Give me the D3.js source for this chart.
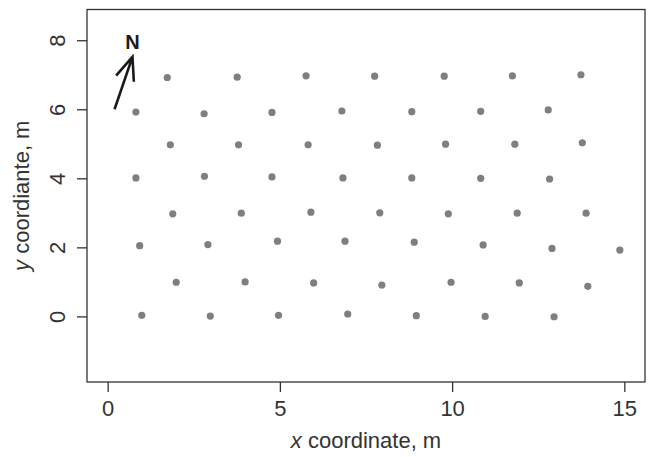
<!DOCTYPE html>
<html>
<head>
<meta charset="utf-8">
<script src="https://cdn.jsdelivr.net/npm/d3@7"></script>
<style>
  body { margin: 0; background: #ffffff; }
  text { font-family: "Liberation Sans", Arial, sans-serif; }
</style>
</head>
<body>
<div id="chart-container"></div>
<script>
// tree positions, m
const xCoord = [
  1.73, 3.76, 5.76, 7.75, 9.77, 11.75, 13.74,
  0.82, 2.80, 4.77, 6.80, 8.83, 10.83, 12.79,
  1.82, 3.80, 5.82, 7.83, 9.81, 11.82, 13.78,
  0.82, 2.81, 4.77, 6.83, 8.83, 10.83, 12.83,
  1.89, 3.88, 5.90, 7.90, 9.89, 11.89, 13.89,
  0.93, 2.91, 4.93, 6.89, 8.90, 10.90, 12.90, 14.87,
  1.99, 3.99, 5.98, 7.96, 9.97, 11.95, 13.94,
  0.99, 2.98, 4.96, 6.97, 8.96, 10.96, 12.96,
];
const yCoord = [
  6.92, 6.93, 6.97, 6.96, 6.96, 6.97, 7.00,
  5.92, 5.87, 5.91, 5.95, 5.93, 5.94, 5.98,
  4.97, 4.97, 4.97, 4.96, 4.99, 4.99, 5.03,
  4.01, 4.06, 4.04, 4.01, 4.01, 4.00, 3.98,
  2.97, 2.99, 3.02, 3.00, 2.97, 2.99, 2.99,
  2.05, 2.08, 2.18, 2.18, 2.15, 2.07, 1.97, 1.92,
  0.99, 1.00, 0.97, 0.91, 0.99, 0.97, 0.87,
  0.03, 0.01, 0.03, 0.07, 0.02, 0.00, -0.01,
];
const xTicks = [0, 5, 10, 15];
const yTicks = [0, 2, 4, 6, 8];
// north arrow
const arrowFrom = [0.2, 6.0];
const arrowTo = [0.72, 7.52];
const northLabel = [0.72, 7.94];

const width = 649;
const height = 457;
const margin = { top: 9.5, right: 4, bottom: 75, left: 87 };

const svg = d3
  .select("#chart-container")
  .append("svg")
  .attr("width", width)
  .attr("height", height);

const x = d3
  .scaleLinear()
  .domain([-0.6, 15.6])
  .range([margin.left, width - margin.right]);

const y = d3
  .scaleLinear()
  .domain([-1.9, 8.89])
  .range([height - margin.bottom, margin.top]);

const axisColor = "#333333";
const bottomY = height - margin.bottom;

// plot box
svg
  .append("rect")
  .attr("x", margin.left)
  .attr("y", margin.top)
  .attr("width", width - margin.right - margin.left)
  .attr("height", bottomY - margin.top)
  .style("fill", "none")
  .style("stroke", axisColor)
  .style("stroke-width", 1.3);

// x axis
const xAxis = svg
  .append("g")
  .attr("transform", `translate(0, ${bottomY})`)
  .call(d3.axisBottom(x).tickValues(xTicks).tickSize(10).tickPadding(8));
xAxis.select(".domain").remove();
xAxis.selectAll("line").style("stroke", axisColor).style("stroke-width", 1.3);
xAxis
  .selectAll("text")
  .style("font-size", "22px")
  .style("fill", "#333333")
  .style("font-family", "Liberation Sans, Arial, sans-serif");

// y axis, labels turned like base R
const yAxis = svg
  .append("g")
  .attr("transform", `translate(${margin.left}, 0)`)
  .call(d3.axisLeft(y).tickValues(yTicks).tickSize(10));
yAxis.select(".domain").remove();
yAxis.selectAll("line").style("stroke", axisColor).style("stroke-width", 1.3);
yAxis
  .selectAll("text")
  .attr("x", null)
  .attr("dy", null)
  .attr("text-anchor", "middle")
  .attr("transform", "translate(-22, 0) rotate(-90)")
  .style("font-size", "22px")
  .style("fill", "#333333")
  .style("font-family", "Liberation Sans, Arial, sans-serif");

// axis titles
const xTitle = svg
  .append("text")
  .attr("x", (margin.left + width - margin.right) / 2)
  .attr("y", 448)
  .attr("text-anchor", "middle")
  .style("font-size", "22px")
  .style("fill", "#333333");
xTitle.append("tspan").style("font-style", "italic").text("x");
xTitle.append("tspan").text(" coordinate, m");

const yTitle = svg
  .append("text")
  .attr(
    "transform",
    `translate(29, ${(margin.top + bottomY) / 2}) rotate(-90)`
  )
  .attr("text-anchor", "middle")
  .style("font-size", "22px")
  .style("fill", "#333333");
yTitle.append("tspan").style("font-style", "italic").text("y");
yTitle.append("tspan").text(" coordiante, m");

// points
svg
  .append("g")
  .selectAll("circle")
  .data(d3.range(xCoord.length))
  .enter()
  .append("circle")
  .attr("cx", (i) => x(xCoord[i]))
  .attr("cy", (i) => y(yCoord[i]))
  .attr("r", 3.6)
  .style("fill", "#7f7f82");

// north arrow: shaft plus two barbs
const x0 = x(arrowFrom[0]);
const y0 = y(arrowFrom[1]);
const x1 = x(arrowTo[0]);
const y1 = y(arrowTo[1]);
const ang = Math.atan2(y1 - y0, x1 - x0);
const headLen = 25;
const headAng = (22 * Math.PI) / 180;
const arrowPath = d3.path();
arrowPath.moveTo(x0, y0);
arrowPath.lineTo(x1, y1);
arrowPath.moveTo(
  x1 - headLen * Math.cos(ang - headAng),
  y1 - headLen * Math.sin(ang - headAng)
);
arrowPath.lineTo(x1, y1);
arrowPath.lineTo(
  x1 - headLen * Math.cos(ang + headAng),
  y1 - headLen * Math.sin(ang + headAng)
);
svg
  .append("path")
  .attr("d", arrowPath.toString())
  .style("fill", "none")
  .style("stroke", "#1a1a1a")
  .style("stroke-width", 2.6)
  .style("stroke-linejoin", "miter");

svg
  .append("text")
  .attr("x", x(northLabel[0]))
  .attr("y", y(northLabel[1]))
  .attr("dy", "0.35em")
  .attr("text-anchor", "middle")
  .style("font-size", "20px")
  .style("font-weight", "bold")
  .style("fill", "#1a1a1a")
  .text("N");
</script>
</body>
</html>
